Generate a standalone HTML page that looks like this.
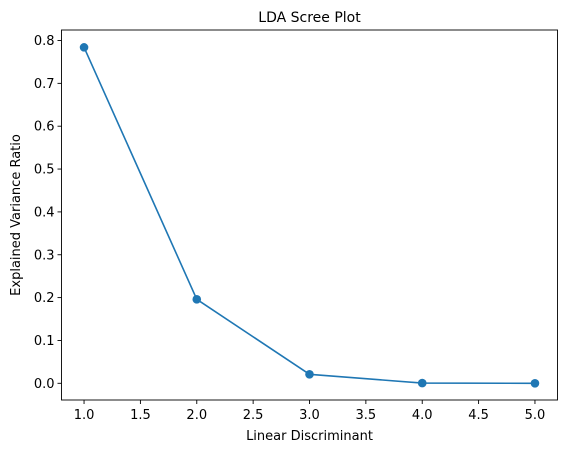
<!DOCTYPE html>
<html><head><meta charset="utf-8"><style>
body{margin:0;background:#fff;}
svg text{font-family:"DejaVu Sans","Liberation Sans",sans-serif;font-size:13px;fill:#000;}
</style></head><body>
<svg width="567" height="453" viewBox="0 0 567 453">
<g id="g"></g>
</svg>
<script>
const categories=[1,2,3,4,5];
const values=[0.784,0.196,0.021,0.0005,0.0];
const xTicks=[1.0,1.5,2.0,2.5,3.0,3.5,4.0,4.5,5.0];
const yTicks=[0.0,0.1,0.2,0.3,0.4,0.5,0.6,0.7,0.8];
const L=61.5,R=557.5,T=30,B=400;
const xs=v=>L+(v-0.8)/4.4*(R-L);
const ys=v=>383.3-v*428.5;
const g=document.getElementById('g');
const NS='http://www.w3.org/2000/svg';
function mk(t,a,txt){const e=document.createElementNS(NS,t);for(const k in a)e.setAttribute(k,a[k]);if(txt!=null)e.textContent=txt;g.appendChild(e);return e;}
let f=mk('rect',{x:L,y:T,width:R-L,height:B-T,fill:'none',stroke:'#000','stroke-width':0.9});


xTicks.forEach(v=>{const x=xs(v);
let l=mk('line',{x1:x,x2:x,y1:B,y2:B+4,stroke:'#000','stroke-width':0.9});


let t=mk('text',{x:x,y:B+19,'text-anchor':'middle'},v.toFixed(1));

});
yTicks.forEach(v=>{const y=ys(v);
let l=mk('line',{x1:L-4,x2:L,y1:y,y2:y,stroke:'#000','stroke-width':0.9});


let t=mk('text',{x:L-7,y:y+4.5,'text-anchor':'end'},v.toFixed(1));

});
let p=mk('polyline',{points:categories.map((c,i)=>xs(c)+','+ys(values[i])).join(' '),fill:'none',stroke:'#1f77b4','stroke-width':1.6});


categories.forEach((c,i)=>{let m=mk('circle',{cx:xs(c),cy:ys(values[i]),r:4.3,fill:'#1f77b4'});

});
let ti=mk('text',{x:(L+R)/2,y:22,'text-anchor':'middle',style:'font-size:14px'},'LDA Scree Plot');


let xl=mk('text',{x:(L+R)/2,y:440,'text-anchor':'middle'},'Linear Discriminant');


let yl=mk('text',{x:0,y:0,'text-anchor':'middle',transform:'translate(20,'+(T+B)/2+') rotate(-90)'},'Explained Variance Ratio');


</script>
</body></html>
